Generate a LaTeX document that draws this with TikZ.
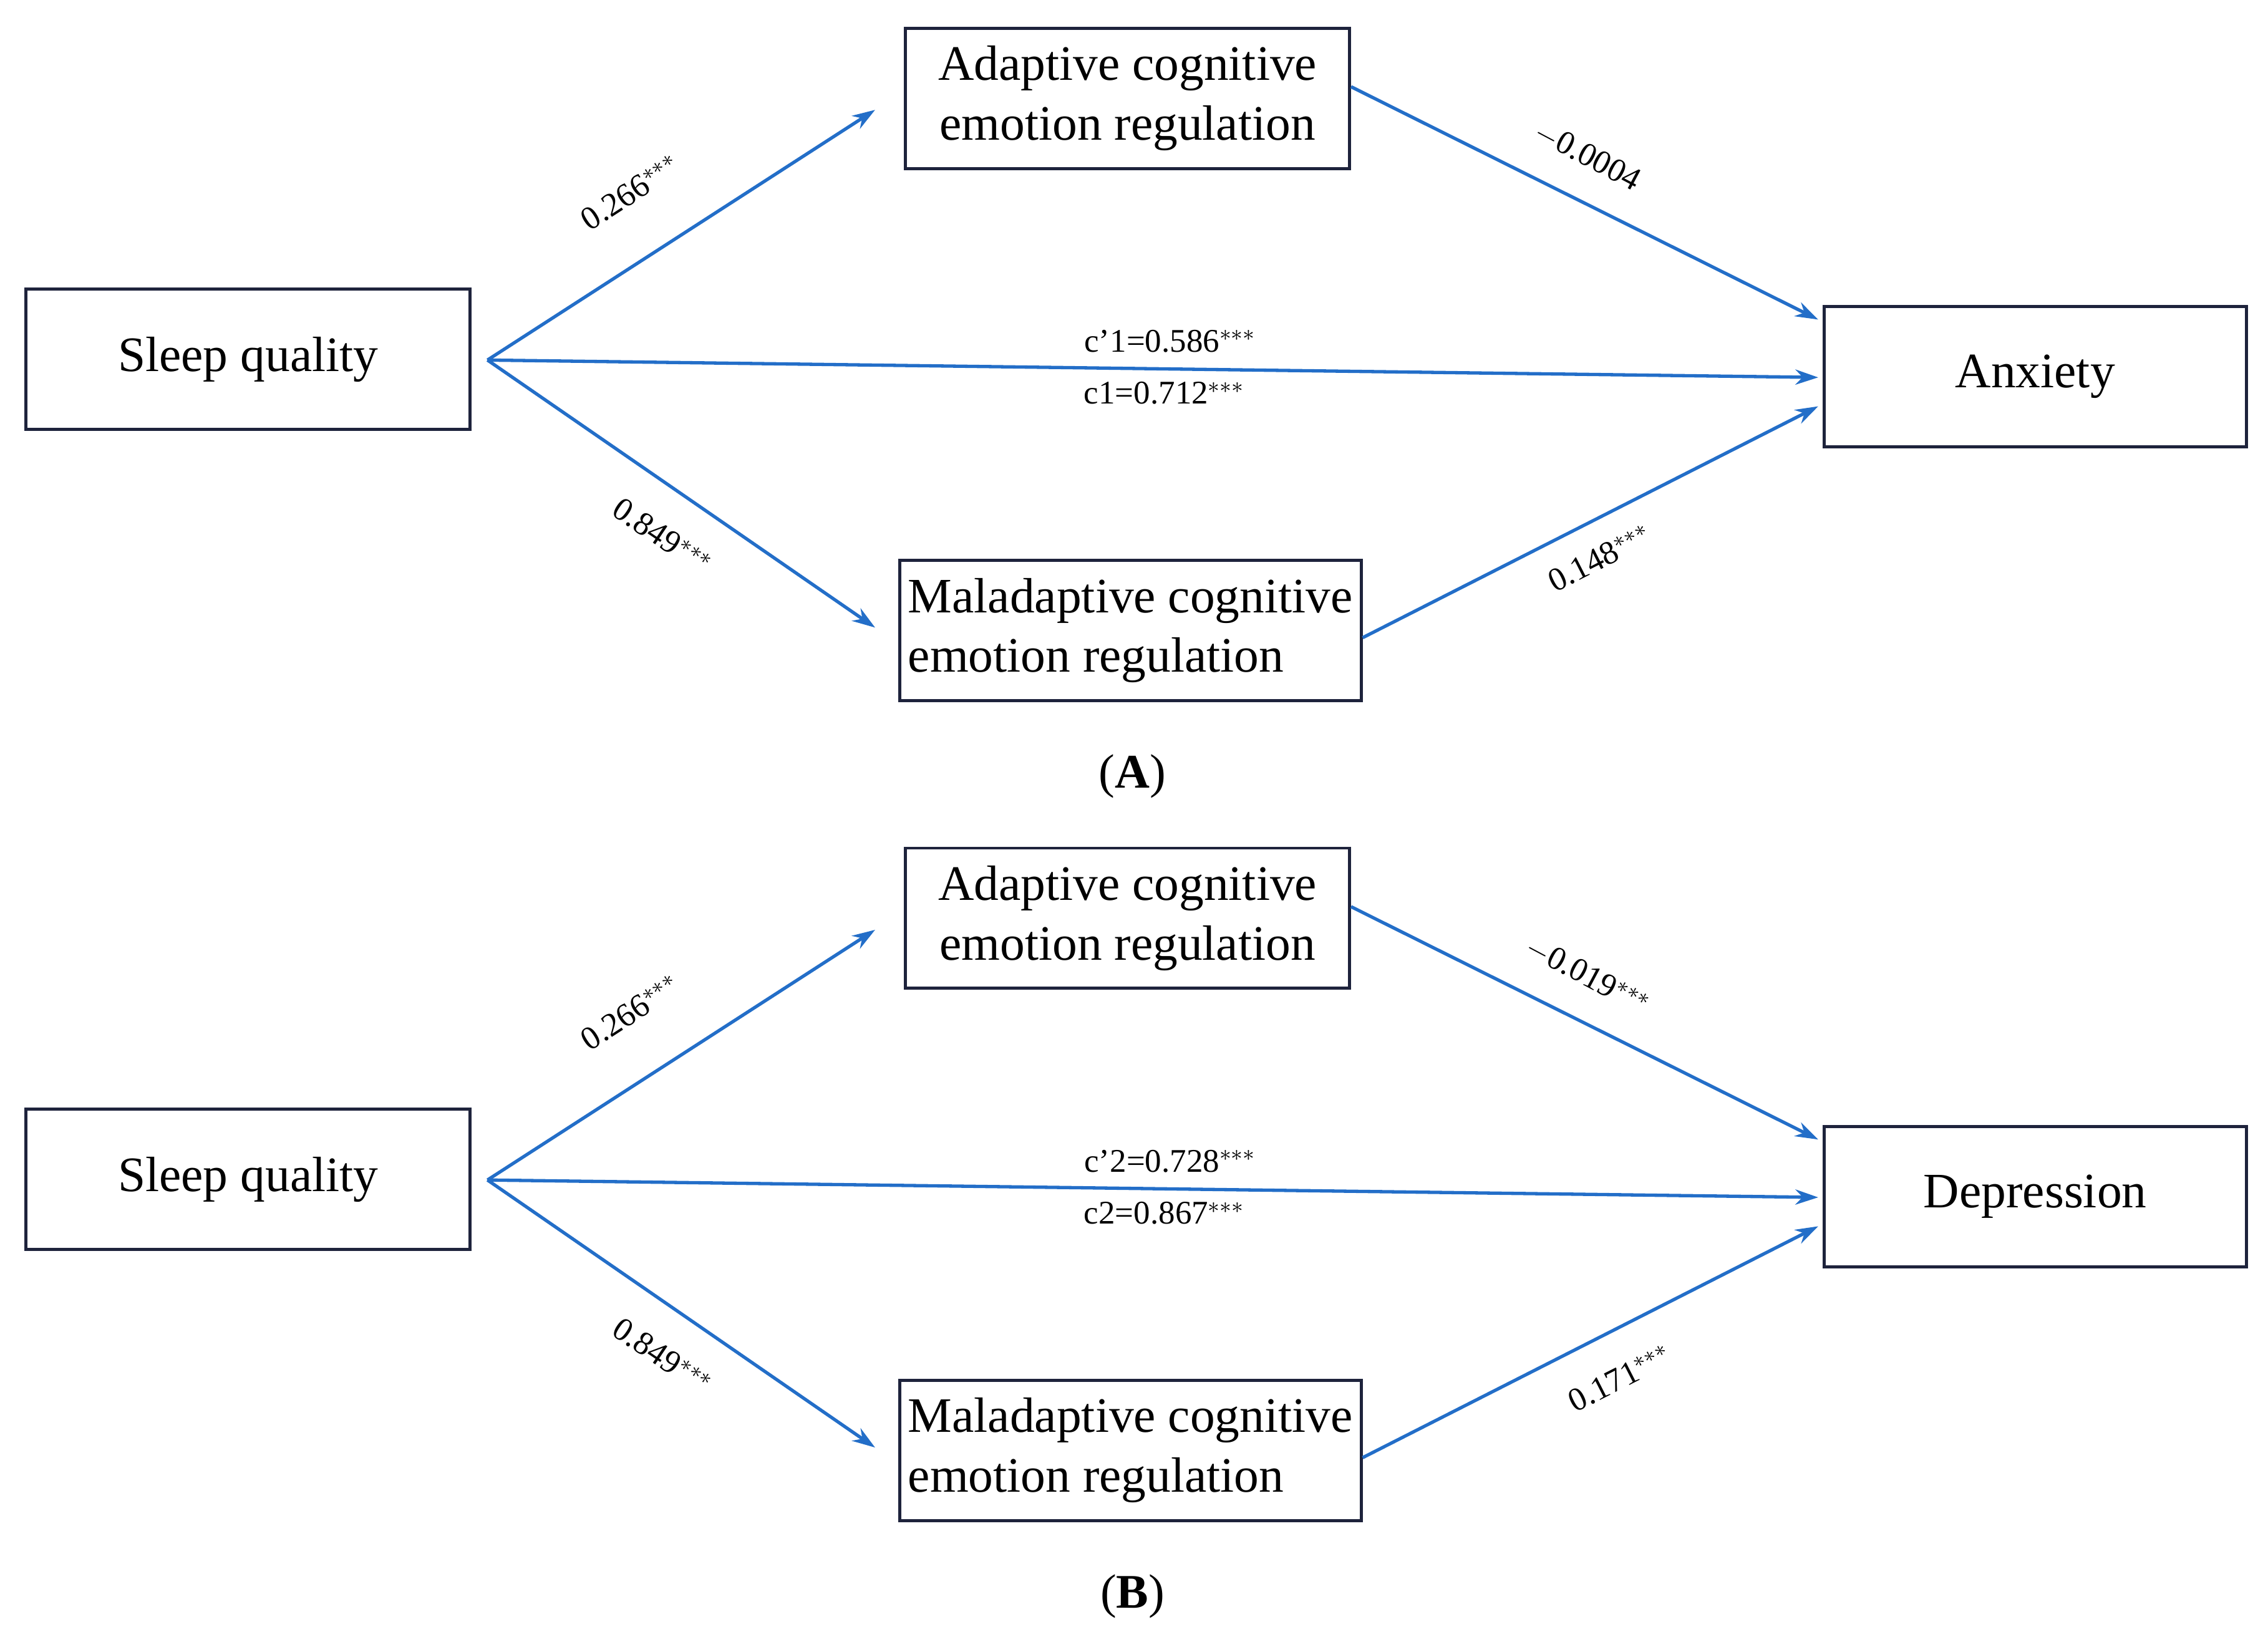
\documentclass[tikz,border=0pt]{standalone}
\usepackage{fontspec}
\setmainfont{Liberation Serif}
\usetikzlibrary{arrows.meta}
\definecolor{arr}{RGB}{35,110,200}
\definecolor{bx}{RGB}{30,35,60}
\tikzset{
 box/.style={draw=bx,line width=1.2pt,minimum height=1.94cm,inner sep=0pt,font=\fontsize{19.5}{23.5}\selectfont,align=center},
 con/.style={draw=arr,line width=1.3pt,-{Stealth[length=9pt,width=6pt]}},
 lab/.style={font=\fontsize{13}{15}\selectfont,inner sep=1pt},
 pcap/.style={font=\fontsize{19}{23}\selectfont}
}
\newcommand\mypanel[9]{%
 \begin{scope}[yshift=#2 cm]
 \node[box,minimum width=6.14cm] (#1sq) at (3.43,17.67) {Sleep quality};
 \node[box,minimum width=6.14cm] (#1ad) at (15.59,21.28) {Adaptive cognitive\\emotion regulation};
 \node[box,minimum width=5.84cm] (#1out) at (28.14,17.43) {#3};
 \node[box,minimum width=6.38cm,align=left] (#1ma) at (15.63,13.92) {Maladaptive cognitive\\emotion regulation};
 \coordinate (#1s) at (6.74,17.66);
 \coordinate (#1adin) at (12.10,21.12);
 \coordinate (#1main) at (12.10,13.96);
 \coordinate (#1o1) at (25.14,18.22);
 \coordinate (#1o2) at (25.14,17.42);
 \coordinate (#1o3) at (25.14,17.02);
 \draw[con] (#1s) -- (#1adin);
 \draw[con] (#1s) -- (#1main);
 \draw[con] (#1s) -- (#1o2);
 \draw[con] (#1ad.east|-0,21.44) -- (#1o1);
 \draw[con] (#1ma.east|-0,13.82) -- (#1o3);
 \node[lab,rotate=33] at (8.72,19.98) {0.266$^{***}$};
 \node[lab,rotate=-34] at (9.16,15.22) {0.849$^{***}$};
 \node[lab,rotate=-28] at (21.95,20.48) {#4};
 \node[lab,rotate=27] at (#9,14.92) {#5};
 \node[lab] at (16.18,17.92) {#6};
 \node[lab] at (16.10,17.20) {#7};
 \node[pcap] at (15.66,11.90) {(\textbf{#8})};
 \end{scope}}
\begin{document}
\begin{tikzpicture}
\useasboundingbox (0,0) rectangle (31.36,22.64);
\mypanel{a}{0}{Anxiety}{$-$0.0004}{0.148$^{***}$}{c'1=0.586$^{***}$}{c1=0.712$^{***}$}{A}{22.12}
\mypanel{b}{-11.34}{Depression}{$-$0.019$^{***}$}{0.171$^{***}$}{c'2=0.728$^{***}$}{c2=0.867$^{***}$}{B}{22.40}
\end{tikzpicture}
\end{document}
